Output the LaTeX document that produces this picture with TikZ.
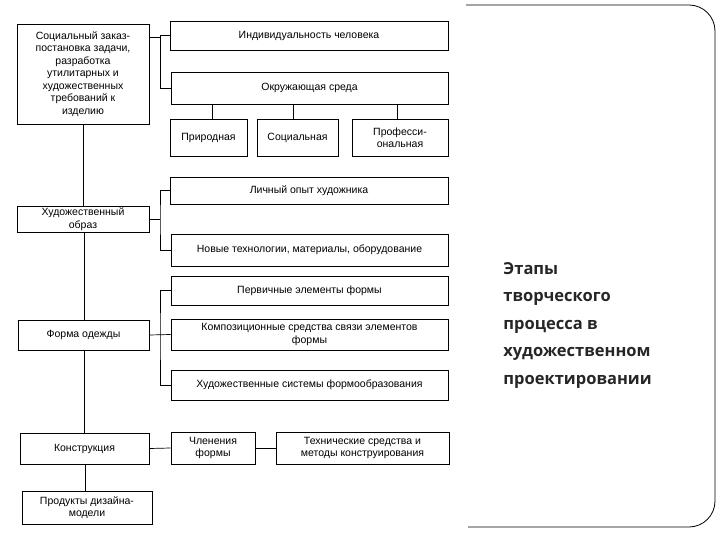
\documentclass[tikz,border=0pt]{standalone}
\usepackage{fontspec}
\setmainfont{Liberation Sans}
\newfontfamily\titlefont{Open Sans}
\begin{document}
\begin{tikzpicture}[x=1pt,y=-1pt,line width=0.9pt,
  bx/.style={draw,inner sep=0pt,align=center,font=\fontsize{10.5}{12.5}\selectfont},
  ln/.style={line width=0.7pt}]
\useasboundingbox (0,0) rectangle (720,540);
\newcommand\bx[6]{\node[bx,minimum width=#4-#2,minimum height=#5-#3] (#1) at ({(#2+#4)/2},{(#3+#5)/2}) {#6};}
\bx{A}{17}{24}{149}{124}{Социальный заказ-\\постановка задачи,\\разработка\\утилитарных  и\\художественных\\требований к\\изделию}
\bx{ind}{170}{21}{448}{50}{Индивидуальность человека}
\bx{env}{171}{72}{448}{104}{Окружающая среда}
\bx{pr}{170}{119}{247}{156}{Природная}
\bx{so}{257}{119}{338}{156}{Социальная}
\bx{pf}{352}{119}{448}{156}{Професси-\\ональная}
\bx{kh}{17}{206}{149}{232}{Художественный\\образ}
\bx{li}{170}{177}{448}{204}{Личный опыт художника}
\bx{no}{171}{234}{448}{266}{Новые технологии, материалы, оборудование}
\bx{fo}{18}{320}{149}{350}{Форма одежды}
\bx{pe}{171}{276}{448}{305}{Первичные элементы формы}
\bx{ko}{171}{319}{448}{350}{Композиционные средства связи элементов\\формы}
\bx{hs}{171}{370}{448}{400}{Художественные системы формообразования}
\bx{kn}{20}{433}{149}{464}{Конструкция}
\bx{ch}{171}{432}{255}{464}{Членения\\формы}
\bx{te}{276}{432}{449}{464}{Технические средства и\\методы конструирования}
\bx{pd}{22}{491}{152}{524}{Продукты дизайна-\\модели}
% connectors
\draw[ln] (A.east|-0,37) -- (160,37) |- (ind.west);
\draw[ln] (160,37) |- (env.west);
\draw[ln] (212,104) -- (pr.north-|212,0);
\draw[ln] (293,104) -- (so.north-|293,0);
\draw[ln] (397,104) -- (pf.north-|397,0);
\draw[ln] (A.south-|83,0) -- (kh.north-|83,0);
\draw[ln] (kh.east) -- (160,219);
\draw[ln] (li.west) -| (160,219) |- (no.west);
\draw[ln] (kh.south-|84,0) -- (fo.north-|84,0);
\draw[ln] (fo.east) -- (ko.west);
\draw[ln] (pe.west) -| (160,335) |- (hs.west);
\draw[ln] (fo.south-|84,0) -- (kn.north-|84,0);
\draw[ln] (kn.east) -- (ch.west);
\draw[ln] (ch.east) -- (te.west);
\draw[ln] (kn.south-|85,0) -- (pd.north-|85,0);
% frame
\draw[line width=0.8pt,rounded corners=26] (466,5) -- (715,5) -- (715,527) -- (468,527);
\node[anchor=north west,align=left,inner sep=0pt,font=\titlefont\bfseries\fontsize{16.5}{27.5}\selectfont,text=black!85] (t) at (503,262)
{Этапы\\творческого\\процесса в\\художественном\\проектировании};
\end{tikzpicture}
\end{document}
